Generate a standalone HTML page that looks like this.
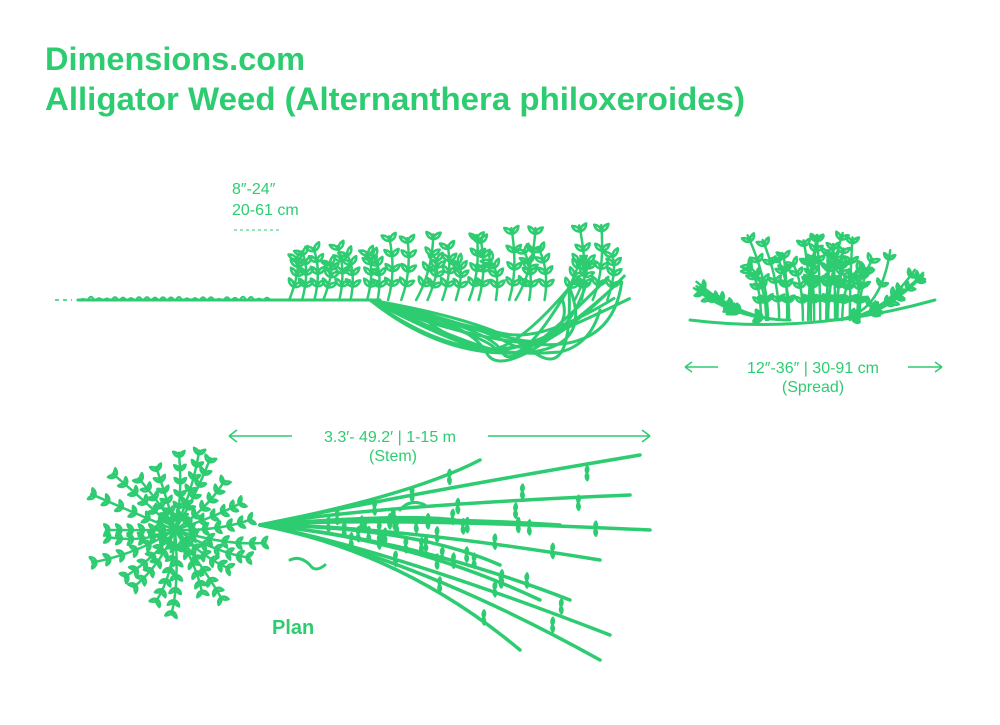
<!DOCTYPE html>
<html><head><meta charset="utf-8"><style>
html,body{margin:0;padding:0;background:#fff}
svg{display:block}
text{font-family:"Liberation Sans",sans-serif;fill:#2ecc71}
</style></head><body>
<svg id="s" width="1000" height="725" viewBox="0 0 1000 725" xmlns="http://www.w3.org/2000/svg">
<text x="45" y="70" font-size="32" font-weight="bold" textLength="260" lengthAdjust="spacingAndGlyphs">Dimensions.com</text>
<text x="45" y="110" font-size="32" font-weight="bold" textLength="700" lengthAdjust="spacingAndGlyphs">Alligator Weed (Alternanthera philoxeroides)</text>
<text x="232" y="194" font-size="16">8″-24″</text>
<text x="232" y="215" font-size="16">20-61 cm</text>
<line x1="234" y1="230" x2="282" y2="230" stroke="#2ecc71" stroke-width="1" stroke-dasharray="3,3"/>
<line x1="55" y1="300" x2="72" y2="300" stroke="#2ecc71" stroke-width="1.5" stroke-dasharray="4,4"/>
<g stroke="#2ecc71" stroke-width="1.5" fill="none">
<path d="M230 436H292M229 436l8-6M229 436l8 6M488 436H650M650 436l-8-6M650 436l-8 6"/>
<path d="M685 367H718M685 367l7-5M685 367l7 5M908 367H942M942 367l-7-5M942 367l-7 5"/>
</g>
<text x="390" y="442" font-size="16" text-anchor="middle">3.3′- 49.2′ | 1-15 m</text>
<text x="393" y="461" font-size="16" text-anchor="middle">(Stem)</text>
<text x="813" y="373" font-size="16" text-anchor="middle">12″-36″ | 30-91 cm</text>
<text x="813" y="392" font-size="16" text-anchor="middle">(Spread)</text>
<text x="272" y="634" font-size="20" font-weight="bold">Plan</text>
<g id="p" stroke="#2ecc71" fill="none" stroke-linecap="round" stroke-linejoin="round"></g>
</svg>
<script>
var seed=7;function r(){seed=(seed*16807)%2147483647;return seed/2147483647;}
var g=document.getElementById('p'),out='';
function P(d,w){out+='<path d="'+d+'" stroke-width="'+(w||3)+'"/>';}
function leaf(x,y,a,l){var x2=x+Math.cos(a)*l,y2=y+Math.sin(a)*l;
 var nx=-Math.sin(a)*l*0.35,ny=Math.cos(a)*l*0.35;
 P('M'+x+' '+y+'Q'+(x+(x2-x)/2+nx)+' '+(y+(y2-y)/2+ny)+' '+x2+' '+y2+'Q'+(x+(x2-x)/2-nx)+' '+(y+(y2-y)/2-ny)+' '+x+' '+y,2.5);}
function stem(x1,y1,cx,cy,x2,y2,n,ll,w){P('M'+x1+' '+y1+'Q'+cx+' '+cy+' '+x2+' '+y2,w||3);
 for(var i=1;i<=n;i++){var t=i/(n+0.3);var x=(1-t)*(1-t)*x1+2*(1-t)*t*cx+t*t*x2,y=(1-t)*(1-t)*y1+2*(1-t)*t*cy+t*t*y2;
  var dx=2*(1-t)*(cx-x1)+2*t*(x2-cx),dy=2*(1-t)*(cy-y1)+2*t*(y2-cy),a=Math.atan2(dy,dx);
  leaf(x,y,a-0.8,ll);leaf(x,y,a+0.8,ll);}}
P('M78 300H380',3);
for(var gx=80;gx<270;gx+=8){P('M'+gx+' 300q3 -'+(2+r()*5)+' 6 0',2);}
for(var i=0;i<26;i++){var bx=280+i*13+r()*10;var tp=225+r()*40;if(bx<380)tp=245+r()*20;
 var tx=bx+r()*30-10;stem(bx,300,bx+(tx-bx)/2+8,270,tx,tp,4,10,2.5);}
for(var i=0;i<12;i++){var ex=560+r()*70,ey=270+r()*30;P('M370 300Q'+(440+r()*60)+' '+(320+r()*40)+' '+(480+r()*60)+' '+(330+r()*25)+'T'+ex+' '+ey,3);}
P('M420 315Q470 360 560 352Q590 345 600 310',3);
for(var i=0;i<22;i++){var bx=760+r()*100,tx=bx+(bx-810)*0.3+r()*20-10,tp=232+r()*40;stem(bx,320,bx,280,tx,tp,4,9,2.5);}
for(var i=0;i<6;i++){var tx=680+r()*40;stem(790,320,740,320,tx,280+r()*20,3,8,2.5);tx=890+r()*50;stem(830,320,880,320,tx,250+r()*40,4,8,2.5);}
P('M690 320Q810 335 935 300',3);
for(var i=0;i<22;i++){var a=i/22*Math.PI*2+r()*0.2,l=65+r()*30;stem(175,530,175+Math.cos(a)*l*0.5+r()*10,530+Math.sin(a)*l*0.5+r()*10,175+Math.cos(a)*l,530+Math.sin(a)*l*0.95,6,8,2.5);}
var ends=[[640,455],[630,495],[560,525],[600,560],[570,600],[610,635],[600,660],[540,600],[520,650],[500,565],[480,460],[650,530],[455,520]];
for(var i=0;i<ends.length;i++){var e=ends[i];P('M260 525Q'+(360+r()*60)+' '+(515+(e[1]-525)*0.3)+' '+e[0]+' '+e[1],3.5);
 for(var k=0;k<4;k++){var t=0.35+k*0.17;var x=260+(e[0]-260)*t,y=525+(e[1]-525)*t*t;leaf(x,y,-1.5,7);leaf(x,y,1.5,7);}}
P('M290 560q10 -5 20 5q5 8 15 0',3);P('M400 510q10 -12 25 -5',3);
g.innerHTML=out;
</script>
</body></html>
